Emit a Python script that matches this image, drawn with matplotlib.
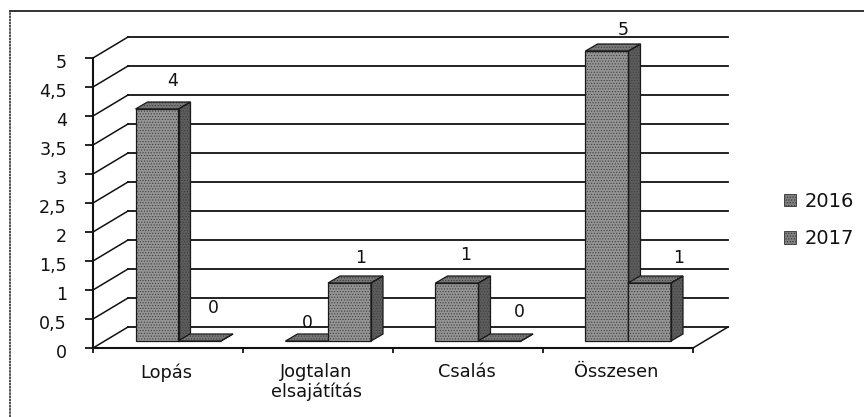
import matplotlib
matplotlib.use("Agg")
import matplotlib.pyplot as plt
from matplotlib.patches import Polygon, Patch
from matplotlib.transforms import ScaledTranslation

categories = ["Lopás", "Jogtalan\nelsajátítás", "Csalás", "Összesen"]
series_names = ["2016", "2017"]
values_2016 = [4, 0, 1, 5]
values_2017 = [0, 1, 0, 1]
y_ticks = [0, 0.5, 1, 1.5, 2, 2.5, 3, 3.5, 4, 4.5, 5]
y_labels = ["0", "0,5", "1", "1,5", "2", "2,5", "3", "3,5", "4", "4,5", "5"]

W, H = 864, 417
plt.rcParams["hatch.linewidth"] = 0.5
fig = plt.figure(figsize=(W/100, H/100), dpi=100, facecolor="white")
plt.rcParams["font.family"] = "DejaVu Sans"
L, R, T, B = 93, 693, 58, 348
ax = fig.add_axes([L/W, 1-B/H, (R-L)/W, (B-T)/H])
ax.set_xlim(0, 4); ax.set_ylim(0, 5)
ax.patch.set_alpha(0)
px = 4/(R-L); py = 5/(B-T)
for s in ("top", "right"):
    ax.spines[s].set_visible(False)
for s in ("left", "bottom"):
    ax.spines[s].set_linewidth(1.5); ax.spines[s].set_color("#111111")

ax.set_yticks(y_ticks)
ax.set_yticklabels(y_labels, fontsize=12.6, color="#111111", va="center_baseline")
ax.tick_params(axis="y", length=5.8, width=1.2, pad=13)
shift = ScaledTranslation(0, -2/72, fig.dpi_scale_trans)
for lab in ax.get_yticklabels():
    lab.set_transform(lab.get_transform() + shift)
ax.set_xticks(range(5)); ax.set_xticklabels([""]*5)
ax.tick_params(axis="x", length=3.5, width=1.2)
ax.set_xticks([0.5+i-0.01 for i in range(4)], minor=True)
ax.set_xticklabels(categories, minor=True, fontsize=12.8, color="#111111", linespacing=1.05)
ax.tick_params(axis="x", which="minor", length=0, pad=11)

# back wall grid and oblique floor lines
wx, wy = 35*px, 21*py
for v in y_ticks:
    ax.plot([wx, 4+wx], [v+wy, v+wy], color="#111111", lw=1.3, clip_on=False, zorder=1)
    ax.plot([0, wx], [v, v+wy], color="#111111", lw=1.1, clip_on=False, zorder=1)
ax.plot([4, 4+wx], [0, wy], color="#111111", lw=1.1, clip_on=False, zorder=1)

FRONT = "#949494"; SIDE = "#5c5c5c"; TOP = "#787878"
dx, dy = 12*px, 7*py
base = 7*py
bw = 43*px

def bar3d(x0, v, z):
    y0, y1 = base, base+v
    faces = [
        ([(x0, y0), (x0+bw, y0), (x0+bw, y1), (x0, y1)], FRONT),
        ([(x0+bw, y0), (x0+bw+dx, y0+dy), (x0+bw+dx, y1+dy), (x0+bw, y1)], SIDE),
        ([(x0, y1), (x0+bw, y1), (x0+bw+dx, y1+dy), (x0+dx, y1+dy)], TOP),
    ]
    for pts, col in faces:
        ax.add_patch(Polygon(pts, facecolor=col, edgecolor="#404040", hatch="......",
                             lw=0, clip_on=False, zorder=z))
        ax.add_patch(Polygon(pts, fill=False, edgecolor="#1a1a1a", lw=0.9, clip_on=False, zorder=z+0.1))

off16, off17 = 42.5*px, 85*px
for i, (a, b) in enumerate(zip(values_2016, values_2017)):
    bar3d(i+off16, a, 3)
    bar3d(i+off17, b, 4)

label_off = {(0, 0): (16, 28), (0, 1): (13.5, 33), (1, 0): (0, 18), (1, 1): (11.5, 25),
             (2, 0): (8.5, 28), (2, 1): (19.5, 29), (3, 0): (16.5, 21), (3, 1): (29.5, 25)}
for s, vals in enumerate((values_2016, values_2017)):
    for i, v in enumerate(vals):
        x0 = i + (off16 if s == 0 else off17) + bw/2
        ox, oy = label_off[(i, s)]
        ax.annotate(str(v), (x0, base+v), xytext=(ox*0.72, oy*0.72), textcoords="offset points",
                    ha="center", va="center", fontsize=12.4, color="#111111", zorder=6,
                    annotation_clip=False)

# legend
handles = [Patch(facecolor="#808080", edgecolor="#333333", hatch="......", lw=0.6, label=n) for n in series_names]
fig.legend(handles=handles, loc="center left", bbox_to_anchor=(784/W, 1-220/H), frameon=False,
           fontsize=14, handlelength=0.6, handleheight=0.6, handletextpad=0.45,
           labelspacing=0.95, labelcolor="#111111", borderpad=0, borderaxespad=0)

# outer frame of the scanned chart
fig.add_artist(plt.Line2D([10/W, 10/W], [0, 1-11/H], color="#333333", lw=1.2, ls=(0, (1.5, 0.4))))
fig.add_artist(plt.Line2D([10/W, 1], [1-11/H, 1-11/H], color="#222222", lw=1.3))

fig.savefig("out.png", dpi=100, facecolor="white")
